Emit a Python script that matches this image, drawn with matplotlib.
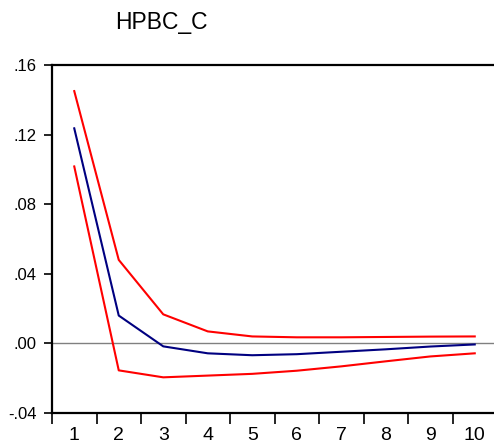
import matplotlib
matplotlib.use("Agg")
import numpy as np
from matplotlib import pyplot as plt

plt.rcParams['font.family'] = ['Liberation Sans', 'DejaVu Sans']

# impulse response of HPBC_C with +/- 2 s.e. bands
periods = [1, 2, 3, 4, 5, 6, 7, 8, 9, 10]
response = [0.1236, 0.0160, -0.0017, -0.0057, -0.0068, -0.0062, -0.0048, -0.0034, -0.0018, -0.0006]
upper = [0.1450, 0.0480, 0.0167, 0.0069, 0.0040, 0.0035, 0.0035, 0.0037, 0.0039, 0.0040]
lower = [0.1017, -0.0155, -0.0195, -0.0185, -0.0175, -0.0157, -0.0132, -0.0103, -0.0075, -0.0057]
y_ticks = [-0.04, 0.00, 0.04, 0.08, 0.12, 0.16]
y_labels = ['-.04', '.00', '.04', '.08', '.12', '.16']

fig = plt.figure(figsize=(4.94, 4.48), dpi=100)
ax = fig.add_axes([52/494, 35/448, 445/494, 348/448])

ax.axhline(0, color='#808080', lw=1.0, zorder=1)
ax.plot(periods, upper, color='#ff0000', lw=1.5, zorder=2)
ax.plot(periods, lower, color='#ff0000', lw=1.5, zorder=2)
ax.plot(periods, response, color='#000080', lw=1.5, zorder=3)

ax.set_xlim(0.5, 10.5)
ax.set_ylim(-0.04, 0.16)

ax.set_xticks(periods)
ax.set_xticklabels([str(p) for p in periods])
ax.set_xticks(np.arange(0.5, 10.5, 1.0), minor=True)
ax.tick_params(axis='x', which='major', length=0, pad=10, labelsize=14)
ax.tick_params(axis='x', which='minor', length=8, width=1.2, direction='out')

ax.set_yticks(y_ticks)
ax.set_yticklabels(y_labels)
ax.tick_params(axis='y', length=6, width=1.2, direction='out', pad=5, labelsize=12)

for s in ax.spines.values():
	s.set_linewidth(1.6)

fig.text(161/494, 1 - 22/448, 'HPBC_C', fontsize=16.5, ha='center', va='center')

fig.savefig('out.png', dpi=100)
